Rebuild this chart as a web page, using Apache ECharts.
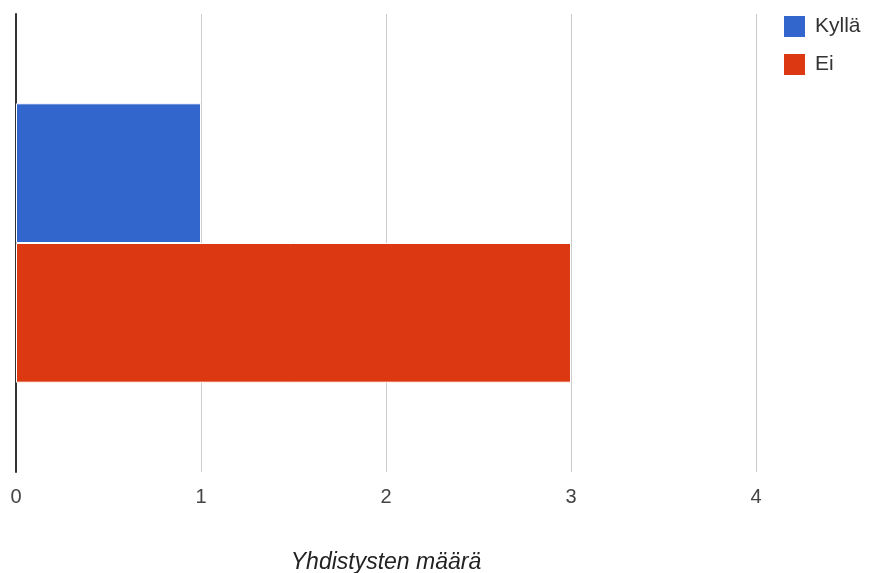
<!DOCTYPE html>
<html>
<head>
<meta charset="utf-8">
<script src="https://cdn.jsdelivr.net/npm/echarts@6/dist/echarts.min.js"></script>
<style>
  html, body { margin: 0; padding: 0; background: #fff; }
  #chart { width: 869px; height: 573px; }
</style>
</head>
<body>
<div id="chart"></div>
<script>
// data
const categories = [''];
const seriesNames = ['Kyllä', 'Ei'];
const kylla = [1];
const ei = [3];
const xTicks = [0, 1, 2, 3, 4];

const chart = echarts.init(document.getElementById('chart'));

const barStyle = (color) => ({
  color: color,
  borderColor: '#fff',
  borderWidth: 1
});

const option = {
  animation: false,
  backgroundColor: '#fff',
  textStyle: { fontFamily: 'Liberation Sans, Arial, sans-serif' },
  grid: {
    left: 16,
    right: 113,
    top: 14,
    bottom: 101,
    outerBoundsMode: 'none'
  },
  legend: {
    data: seriesNames,
    orient: 'vertical',
    left: 782,
    top: 14,
    padding: 0,
    itemWidth: 23,
    itemHeight: 23,
    itemGap: 13,
    icon: 'rect',
    textStyle: { fontSize: 21, color: '#333', padding: [0, 0, 0, 4] }
  },
  xAxis: {
    type: 'value',
    min: xTicks[0],
    max: xTicks[xTicks.length - 1],
    interval: 1,
    name: 'Yhdistysten määrä',
    nameLocation: 'middle',
    nameGap: 79,
    nameTextStyle: { fontSize: 23, fontStyle: 'italic', color: '#222' },
    axisLine: { show: false },
    axisTick: { show: false },
    axisLabel: { fontSize: 20, color: '#444', margin: 15 },
    splitLine: { show: true, lineStyle: { color: '#ccc', width: 1 } }
  },
  yAxis: {
    type: 'category',
    data: categories,
    inverse: true,
    axisLine: { show: true, lineStyle: { color: '#333', width: 2 } },
    axisTick: { show: false },
    axisLabel: { show: false },
    splitLine: { show: false }
  },
  series: [
    {
      name: seriesNames[0],
      type: 'bar',
      data: kylla,
      barCategoryGap: '39%',
      barGap: '0%',
      itemStyle: barStyle('#3366cc')
    },
    {
      name: seriesNames[1],
      type: 'bar',
      data: ei,
      barCategoryGap: '39%',
      barGap: '0%',
      itemStyle: barStyle('#dc3912')
    }
  ]
};

chart.setOption(option);
</script>
</body>
</html>
